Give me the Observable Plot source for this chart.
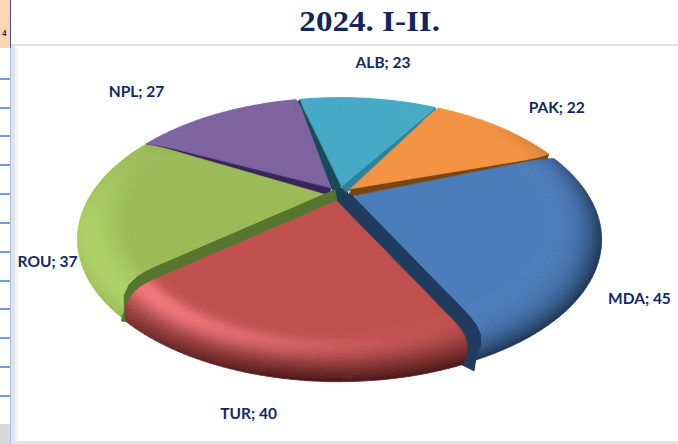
<!DOCTYPE html>
<html><head><meta charset="utf-8">
<script src="https://cdn.jsdelivr.net/npm/d3@7"></script>
<script src="https://cdn.jsdelivr.net/npm/@observablehq/plot@0.6"></script>
<style>
html,body{margin:0;padding:0;background:#fff;width:678px;height:444px;overflow:hidden}
#title{height:44px;text-align:center;padding-left:62px;box-sizing:border-box;font:bold 29px/42px "Liberation Serif",serif;color:#11265f}
#title span{display:inline-block;transform:scaleX(1.14)}
#chart{height:400px}
svg{display:block;background:transparent!important}
.d{position:absolute}
</style></head><body>
<div id="title"><span>2024. I-II.</span></div>
<div id="chart"></div>
<div id="frame"></div>
<script>
// Values
const categories = ["MDA","TUR","ROU","NPL","ALB","PAK"];
const values     = [45,40,37,27,23,22];
const baseColors = ["#4c7dbb","#bf504d","#9abb58","#7f63a1","#46a9c5","#f39343"];
const lightColors= ["#5a8fd0","#ff7d82","#b4da68","#8a6eae","#52b6d2","#f8a25a"];
const darkColors = ["#1c3556","#4a1616","#85a24a","#6a5190","#3a93ad","#a86420"];
const darkPower  = [3,2,3,3,3,3];

// Layout of the tilted pie (screen-independent model units)
const persp = 0.321, startDeg = 71, explode = 0.06, bevelFrom = 0.79;
const cornerDeg = [[1,-5],[5,8],[-10,1],[-1,0.6],[0.4,0.4],[0.4,1]];
const rad = Math.PI/180;
const arcs = d3.pie().sort(null).startAngle(startDeg*rad).endAngle((startDeg+360)*rad)(values);
const pxX = 245, pxY = 125.6, pivotY = 149;

function project(theta, r, mid){
  const e = explode*(1-0.8*r);
  const u = r*Math.sin(theta) + e*Math.sin(mid);
  const v = -r*Math.cos(theta) - e*Math.cos(mid);
  const w = 1 - persp*v;
  return [u/w, v/w];
}
const edgeTheta = (i, r, s) => {
  const a=arcs[i], t = Math.max(0,(r-bevelFrom)/(1-bevelFrom)), k=t*t*t;
  const d0=cornerDeg[i][0]*rad*k, d1=cornerDeg[i][1]*rad*k;
  return a.startAngle + d0 + s*(a.endAngle-a.startAngle-d0-d1);
};
function mix(c1,c2,t){ return d3.interpolateRgb(c1,c2)(Math.max(0,Math.min(1,t))); }
function shade(i, r, theta){
  if(r<=bevelFrom) return baseColors[i];
  const t=(r-bevelFrom)/(1-bevelFrom);
  const L=Math.pow(Math.max(0,Math.cos(theta-225*rad)),2.5);
  const peak=i===2?0.8:0.42, w=i===2?0.45:0.3;
  const onset=Math.min(1,t/0.3); 
  const h=L*Math.exp(-Math.pow((t-peak)/w,2))*onset*onset*(3-2*onset);
  const D=Math.max(0,Math.min(1,(Math.cos(theta-150*rad)+0.3)/1.1));
  const dk=D*Math.pow(t,darkPower[i]);
  return mix(mix(baseColors[i],lightColors[i],h),darkColors[i],dk);
}

function face(i){
  const out=[]; const a=arcs[i], mid=(a.startAngle+a.endAngle)/2;
  const nA=48, nR=20;
  const q=[];
  for(let k=0;k<=nA;k++){ const [x,y]=project(edgeTheta(i,bevelFrom,k/nA),bevelFrom,mid); q.push({x,y}); }
  const [ax,ay]=project(mid,0,mid); q.push({x:ax,y:ay});
  q.forEach(p=>out.push({...p,id:`${i}b`,fill:baseColors[i]}));
  for(let j=0;j<nR;j++){
    const r0=bevelFrom+(1-bevelFrom)*j/nR, r1=bevelFrom+(1-bevelFrom)*(j+1)/nR;
    for(let k=0;k<nA;k++){
      const s0=k/nA,s1=(k+1)/nA;
      const c=shade(i,(r0+r1)/2,edgeTheta(i,(r0+r1)/2,(s0+s1)/2));
      for(const [r,s] of [[r0,s0],[r0,s1],[r1,s1],[r1,s0]]){
        const [x,y]=project(edgeTheta(i,r,s),r,mid);
        out.push({x,y,id:`${i}-${j}-${k}`,fill:c});
      }
    }
  }
  return out;
}

// Side walls in the gaps: [slice whose edge it hugs, edge, px offset x, px offset y, tail x, tail y, colour]
function wall([i,s,dx,dy,tx,ty,c],n){
  const a=arcs[i], mid=(a.startAngle+a.endAngle)/2;
  const line=d3.range(0,1.0001,0.04).map(r=>project(edgeTheta(i,r,s),r,mid));
  const out=line.map(([x,y])=>({x,y,n,c}));
  const [ex,ey]=line[line.length-1];
  out.push({x:ex+tx/pxX,y:ey+ty/pxY,n,c});
  line.slice().reverse().forEach(([x,y])=>out.push({x:x+dx/pxX,y:y+dy/pxY,n,c}));
  return out;
}
const backWalls=[
  [3,0,-1,8,0,4,"#38265a"],
  [4,0,-9,4,-4,3,"#1a4a58"],
  [4,1,5,6,2,4,"#2e8299"],
  [5,1,-1,8,-1,4,"#7a4610"]
].flatMap(wall);
const frontWalls=[
  [1,0,14,-7,12,6,"#1f3b5e"],
  [1,1,-2,-11,-5,-1,"#56752f"]
].flatMap(wall);

const faceMark=i=>Plot.line(face(i),{x:"x",y:"y",z:"id",fill:"fill",stroke:"fill",strokeWidth:0.7,curve:"linear-closed"});
const wallMark=w=>Plot.line(w,{x:"x",y:"y",z:"n",fill:"c",stroke:"c",strokeWidth:1,curve:"linear-closed"});

// Labels anchored to the rim at each slice's middle angle
const labelOffsets={MDA:[42,50],TUR:[-19,41],ROU:[-39,53],NPL:[-84,-22],ALB:[15,-36],PAK:[60,-19]};
const labels=arcs.map((a,i)=>{
  const mid=(a.startAngle+a.endAngle)/2;
  const w=1-persp*(-Math.cos(mid));
  const x=Math.sin(mid)/w, y=-Math.cos(mid)/w;
  const o=labelOffsets[categories[i]];
  return {x,y,dx:o[0],dy:o[1],text:`${categories[i]}; ${values[i]}`};
});

const plot=Plot.plot({
  width:678,height:400,margin:0,
  x:{domain:[-339/pxX,339/pxX],range:[0,678],axis:null},
  y:{domain:[-pivotY/pxY,(400-pivotY)/pxY],range:[0,400],axis:null},
  marks:[
    Plot.dot([{x:0,y:0.03}],{x:"x",y:"y",r:10,fill:"#1b4050"}),
    wallMark(backWalls),
    faceMark(3),faceMark(4),faceMark(5),faceMark(2),faceMark(0),
    wallMark(frontWalls),
    faceMark(1),
    ...labels.map(l=>Plot.text([l],{x:"x",y:"y",text:"text",dx:l.dx,dy:l.dy,fontFamily:"Lato, sans-serif",fontWeight:"bold",fontSize:15.5,fill:"#0f2866"}))
  ]
});
document.getElementById("chart").appendChild(plot);

// Surrounding window furniture: chart frame and the sheet cells behind it
const frame=document.getElementById("frame");
function box(l,t,w,h,bg,txt){const d=document.createElement("div");d.className="d";d.style.cssText+=`left:${l}px;top:${t}px;width:${w}px;height:${h}px;background:${bg};overflow:hidden`;if(txt){d.innerHTML=txt;}frame.appendChild(d);}
box(11,44,667,2,"#e2e2e2");
box(11,44,4,400,"#dfe4ea");
box(15,46,3,398,"#f6f6f6");
box(11,441,667,3,"#e4e4e4");
box(10,0,1,48,"#4a4aa8");
box(10,48,1,396,"#a8c0e4");
box(0,0,10,48,"#fcd5b4",'<span style="position:absolute;left:2px;top:28px;font:bold 9px Liberation Serif,serif;color:#14296b">4</span>');
[78,107,135,164,193,222,251,280,308,337,366,395].forEach(y=>box(0,y,10,1.5,"#6f9ae0"));
box(0,424,10,20,"#d9d9d9");
</script>
</body></html>
